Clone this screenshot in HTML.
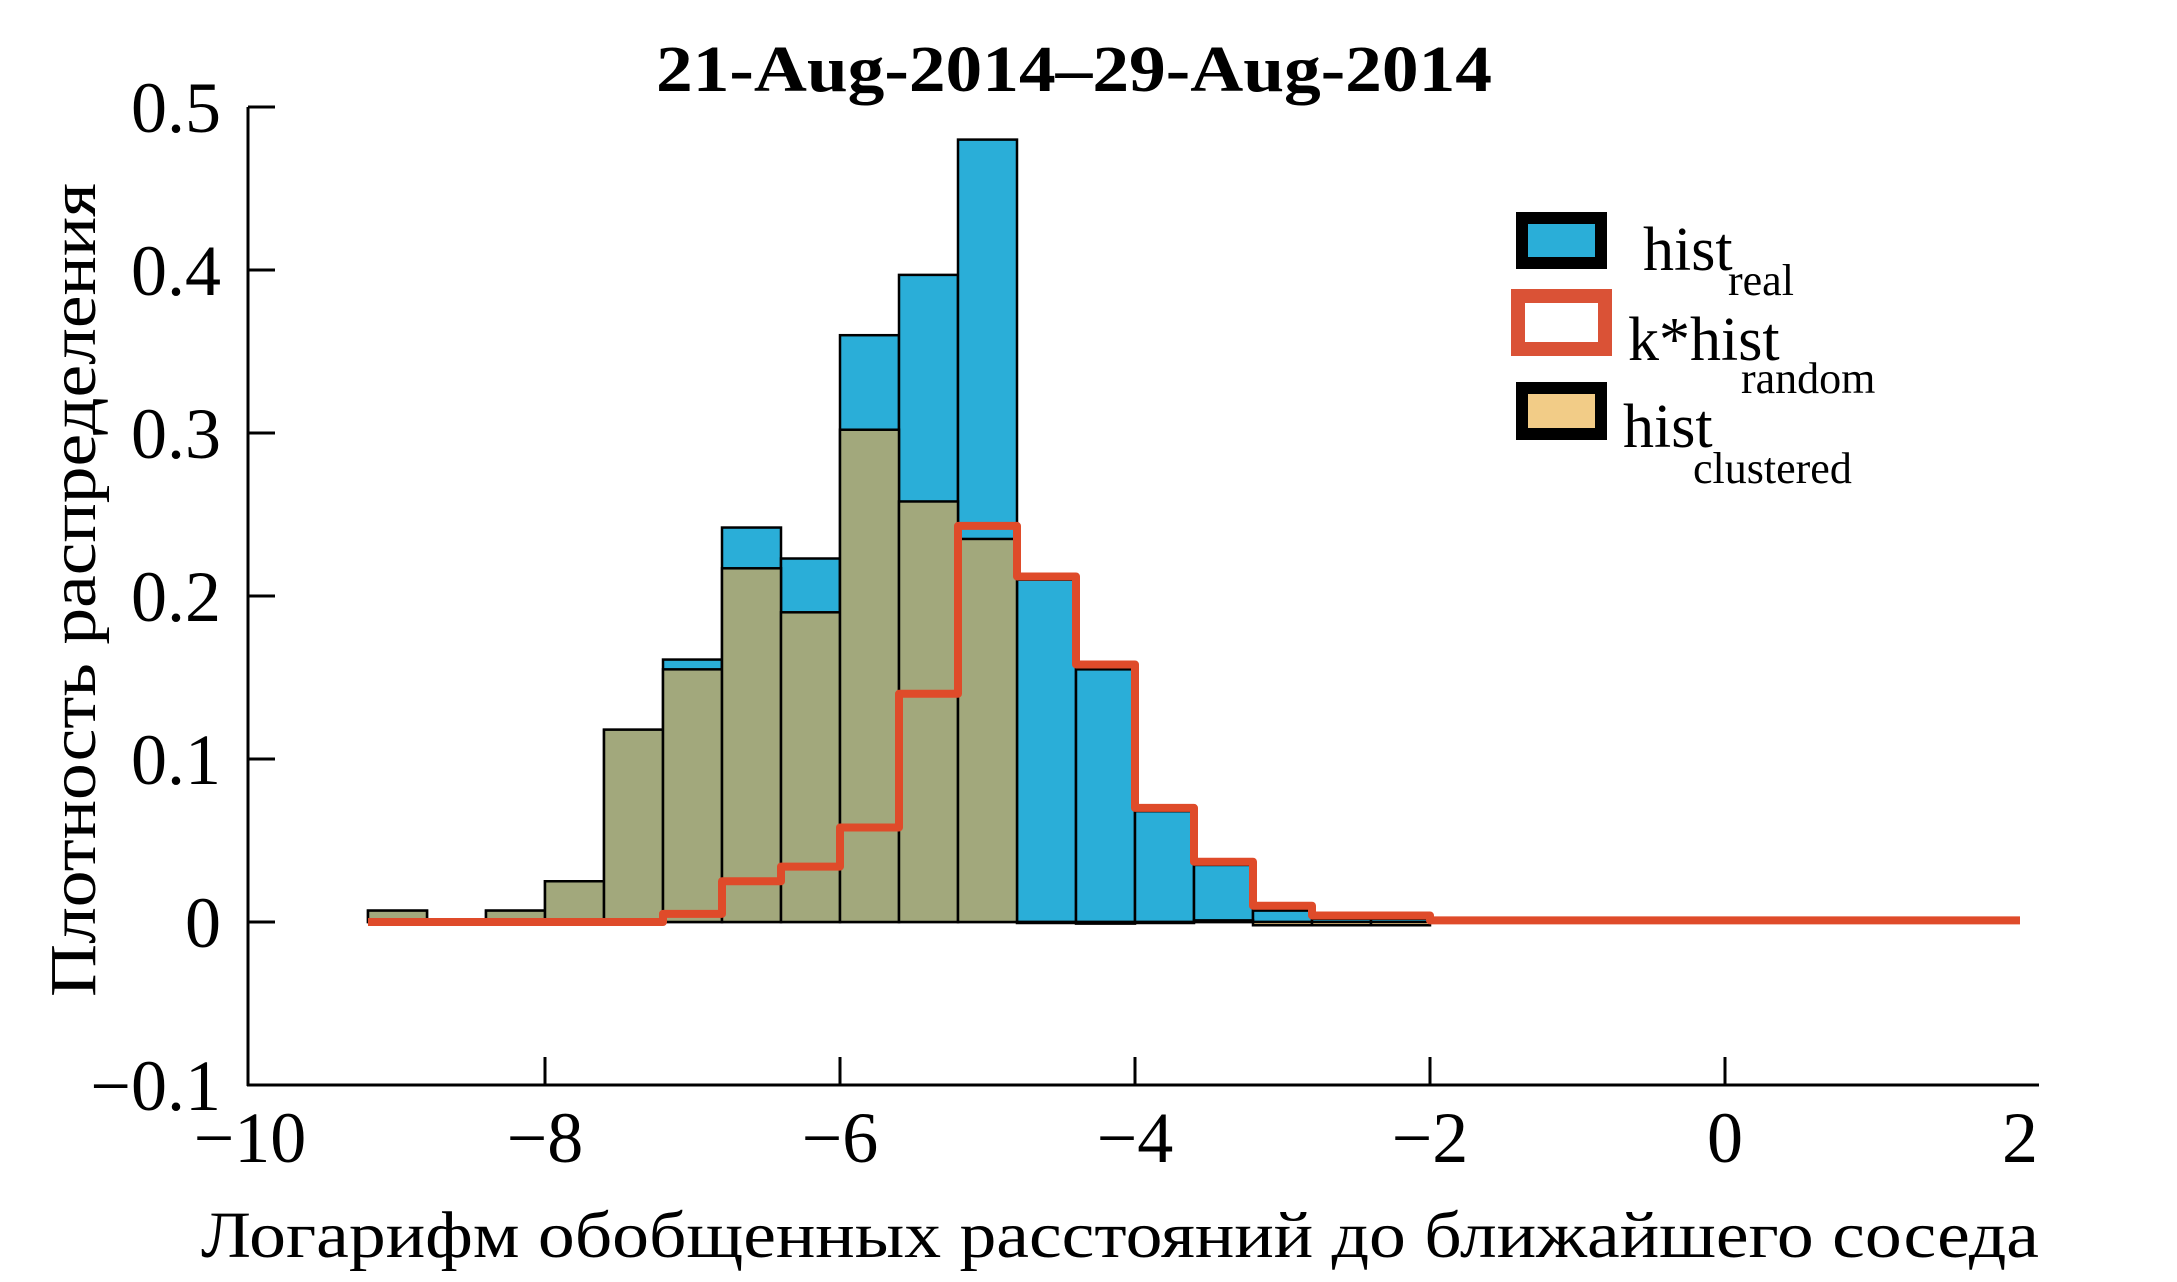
<!DOCTYPE html>
<html><head><meta charset="utf-8"><style>
html,body{margin:0;padding:0;background:#fff;}
svg{display:block;font-family:"Liberation Serif",serif;}
</style></head><body>
<svg id="chart" width="2177" height="1282" viewBox="0 0 2177 1282" xmlns="http://www.w3.org/2000/svg">
<text x="1074" y="91" font-size="66" font-weight="bold" text-anchor="middle" textLength="836" lengthAdjust="spacingAndGlyphs">21-Aug-2014–29-Aug-2014</text>
<g id="bars"></g>
<g id="axes"></g>
<text x="1120" y="1257" font-size="66" text-anchor="middle" textLength="1838" lengthAdjust="spacingAndGlyphs">Логарифм обобщенных расстояний до ближайшего соседа</text>
<text transform="translate(95,590) rotate(-90)" font-size="66" text-anchor="middle" textLength="814" lengthAdjust="spacingAndGlyphs">Плотность распределения</text>
<g>
<rect x="1522" y="218" width="79" height="45" fill="#2aaed8" stroke="#000" stroke-width="12"/>
<text x="1643" y="270" font-size="62">hist</text>
<text x="1728" y="295" font-size="44">real</text>
<rect x="1518" y="296" width="87" height="53" fill="#fff" stroke="#da5236" stroke-width="14"/>
<text x="1628" y="360" font-size="62">k*hist</text>
<text x="1741" y="393" font-size="44">random</text>
<rect x="1522" y="388" width="79" height="46" fill="#f2cc87" stroke="#000" stroke-width="12"/>
<text x="1623" y="447" font-size="62">hist</text>
<text x="1693" y="483" font-size="44">clustered</text>
</g>
</svg>
<script>
const binStarts = [-9.2,-8.8,-8.4,-8.0,-7.6,-7.2,-6.8,-6.4,-6.0,-5.6,-5.2,-4.8,-4.4,-4.0,-3.6,-3.2,-2.8,-2.4];
const binWidth = 0.4;
const realValues = [0.007,0.001,0.007,0.025,0.118,0.161,0.242,0.223,0.360,0.397,0.480,0.210,0.155,0.068,0.035,0.007,0.002,0.002];
const clusteredValues = [0.007,0.001,0.007,0.025,0.118,0.155,0.217,0.190,0.302,0.258,0.235,0,-0.001,-0.0005,0.001,-0.002,-0.002,-0.002];
const randomValues = [0,0,0,0,0,0.005,0.025,0.034,0.058,0.140,0.243,0.212,0.158,0.070,0.037,0.010,0.004,0.004];
const randomTailValue = 0.001;
const randomTailEnd = 2;
const xTicks = [-10,-8,-6,-4,-2,0,2];
const xTickLabels = ['−10','−8','−6','−4','−2','0','2'];
const yTicks = [-0.1,0,0.1,0.2,0.3,0.4,0.5];
const yTickLabels = ['−0.1','0','0.1','0.2','0.3','0.4','0.5'];

const NS='http://www.w3.org/2000/svg';
const X=v=>250+(v+10)*147.5;
const Y=v=>922-v*1630;
function mk(tag,attrs,parent){const e=document.createElementNS(NS,tag);for(const k in attrs)e.setAttribute(k,attrs[k]);parent.appendChild(e);return e;}
const bars=document.getElementById('bars');
const axes=document.getElementById('axes');

binStarts.forEach((s,i)=>{
  const x0=X(s),x1=X(s+binWidth);
  const v=realValues[i];
  const r=mk('rect',{x:x0,y:Math.min(Y(v),Y(0)),width:x1-x0,height:Math.abs(Y(v)-Y(0)),fill:'#2aaed8',stroke:'#000','stroke-width':2.5},bars);
  
  
});
binStarts.forEach((s,i)=>{
  const x0=X(s),x1=X(s+binWidth);
  const v=clusteredValues[i];
  const h=Math.max(Math.abs(Y(v)-Y(0)),1);
  const r=mk('rect',{x:x0,y:Math.min(Y(v),Y(0)),width:x1-x0,height:h,fill:v>0.003?'#a2a87c':'#f2cc87',stroke:'#000','stroke-width':2.5},bars);
  
  
});
let d='';
binStarts.forEach((s,i)=>{
  d+=(i===0?'M':'L')+X(s)+','+Y(randomValues[i])+' L'+X(s+binWidth)+','+Y(randomValues[i])+' ';
});
const last=binStarts[binStarts.length-1]+binWidth;
d+='L'+X(last)+','+Y(randomTailValue)+' L'+X(randomTailEnd)+','+Y(randomTailValue);
const line=mk('path',{d:d,fill:'none',stroke:'#df4b2a','stroke-width':8,'stroke-linejoin':'round'},bars);



const ya=mk('line',{x1:248,y1:107,x2:248,y2:1086,stroke:'#000','stroke-width':3},axes);


const xa=mk('line',{x1:247,y1:1085,x2:2039,y2:1085,stroke:'#000','stroke-width':3},axes);


xTicks.forEach((t,i)=>{
  if(t>-10&&t<2){
    const tk=mk('line',{x1:X(t),y1:1085,x2:X(t),y2:1057,stroke:'#000','stroke-width':3},axes);
    
    
  }
  const tl=mk('text',{x:X(t),y:1162,'font-size':72,'text-anchor':'middle'},axes);
  tl.textContent=xTickLabels[i];
  
  
});
yTicks.forEach((t,i)=>{
  if(t>-0.1){
    const tk=mk('line',{x1:248,y1:Y(t),x2:275,y2:Y(t),stroke:'#000','stroke-width':3},axes);
    
    
  }
  const tl=mk('text',{x:221,y:Y(t)+25,'font-size':72,'text-anchor':'end'},axes);
  tl.textContent=yTickLabels[i];
  
  
});
</script>
</body></html>
